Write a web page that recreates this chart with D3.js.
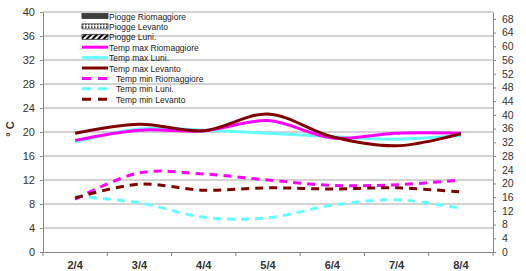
<!DOCTYPE html>
<html>
<head>
<meta charset="utf-8" />
<script src="https://d3js.org/d3.v7.min.js"></script>
<style>
body { margin: 0; background: #fff; }
svg { font-family: "Liberation Sans", Arial, sans-serif; }
.axis text { fill: #333; font-size: 11px; }
.axis path, .axis line { stroke: #888; }
</style>
</head>
<body>
<script>
var days = ["2/4", "3/4", "4/4", "5/4", "6/4", "7/4", "8/4"];

var maxRiomaggiore = [18.6, 20.3, 20.2, 21.9, 19.0, 19.8, 19.8];
var maxLuni        = [18.3, 20.5, 20.3, 19.8, 19.2, 18.8, 19.4];
var maxLevanto     = [19.8, 21.3, 20.2, 23.0, 19.2, 17.7, 19.7];
var minRiomaggiore = [8.8, 13.2, 13.0, 12.0, 11.1, 11.2, 12.0];
var minLuni        = [9.3, 8.2, 5.8, 5.7, 7.8, 8.7, 7.3];
var minLevanto     = [9.0, 11.3, 10.3, 10.7, 10.5, 10.7, 10.0];

var rainRiomaggiore = [0, 0, 0, 0, 0, 0, 0];
var rainLevanto     = [0, 0, 0, 0, 0, 0, 0];
var rainLuni        = [0, 0, 0, 0, 0, 0, 0];

var leftTicks = [0, 4, 8, 12, 16, 20, 24, 28, 32, 36, 40];
var rightTicks = [0, 4, 8, 12, 16, 20, 24, 28, 32, 36, 40, 44, 48, 52, 56, 60, 64, 68];

var margin = {top: 12, right: 33, bottom: 19, left: 43},
    width = 526 - margin.left - margin.right,
    height = 271 - margin.top - margin.bottom;

var svg = d3.select("body").append("svg")
    .attr("width", 526)
    .attr("height", 271);

var g = svg.append("g")
    .attr("transform", "translate(" + margin.left + "," + margin.top + ")");

var x = d3.scaleBand().domain(days).range([0, width]);
var y = d3.scaleLinear().domain([0, 40]).range([height, 0]);
var y2 = d3.scaleLinear().domain([0, 70]).range([height, 0]);

// gridlines
g.selectAll(".grid")
    .data(leftTicks.slice(1))
    .enter().append("line")
    .attr("x1", 0).attr("x2", width)
    .attr("y1", function(d) { return y(d); })
    .attr("y2", function(d) { return y(d); })
    .style("stroke", "#c4c4c4")
    .style("stroke-width", 1.5);

// axes
var xAxis = d3.axisBottom(x).tickSize(0).tickPadding(9);
var gx = g.append("g")
    .attr("class", "x axis")
    .attr("transform", "translate(0," + height + ")")
    .call(xAxis);
gx.selectAll("text").style("font-weight", "bold").style("font-size", "11px");
gx.selectAll(".xtick")
    .data(d3.range(days.length + 1))
    .enter().append("line")
    .attr("class", "xtick")
    .attr("x1", function(d) { return d * x.step(); })
    .attr("x2", function(d) { return d * x.step(); })
    .attr("y1", 0).attr("y2", 4)
    .style("stroke", "#888");

g.append("g")
    .attr("class", "y axis")
    .call(d3.axisLeft(y).tickValues(leftTicks).tickSize(3).tickSizeOuter(0).tickPadding(5));

g.append("g")
    .attr("class", "y2 axis")
    .attr("transform", "translate(" + width + ",0)")
    .call(d3.axisRight(y2).tickValues(rightTicks).tickSize(3).tickSizeOuter(0).tickPadding(6));

g.selectAll(".y2 text").style("font-size", "10.5px");

svg.append("text")
    .attr("transform", "translate(14," + (margin.top + y(20.5)) + ") rotate(-90)")
    .attr("text-anchor", "middle")
    .style("font-weight", "bold")
    .style("font-size", "11px")
    .style("fill", "#333")
    .text("° C");

// rain bars (all zero in this period)
var rainSeries = [rainRiomaggiore, rainLevanto, rainLuni];
var rainFill = ["#404040", "#ffffff", "#ffffff"];
rainSeries.forEach(function(s, k) {
    g.selectAll(".rain" + k)
        .data(s)
        .enter().append("rect")
        .attr("x", function(d, i) { return x(days[i]) + x.bandwidth() * (0.2 + 0.2 * k); })
        .attr("width", x.bandwidth() * 0.2)
        .attr("y", function(d) { return y2(d); })
        .attr("height", function(d) { return height - y2(d); })
        .style("fill", rainFill[k])
        .style("stroke", "#000");
});

var series = [
    {name: "Temp max Riomaggiore", values: maxRiomaggiore, color: "#ff00ff", dash: null},
    {name: "Temp max Luni.", values: maxLuni, color: "#66ffff", dash: null},
    {name: "Temp max Levanto", values: maxLevanto, color: "#800000", dash: null},
    {name: "Temp min Riomaggiore", values: minRiomaggiore, color: "#ff00ff", dash: "8,6"},
    {name: "Temp min Luni.", values: minLuni, color: "#66ffff", dash: "8,6"},
    {name: "Temp min Levanto", values: minLevanto, color: "#800000", dash: "8,6"}
];

var line = d3.line()
    .x(function(d, i) { return x(days[i]) + x.bandwidth() / 2; })
    .y(function(d) { return y(d); })
    .curve(d3.curveCatmullRom.alpha(0.5));

// draw order: cyan, magenta, brown on top
[1, 0, 2, 4, 3, 5].forEach(function(k) {
    var s = series[k];
    g.append("path")
        .datum(s.values)
        .attr("d", line)
        .style("fill", "none")
        .style("stroke", s.color)
        .style("stroke-width", 3)
        .style("stroke-dasharray", s.dash);
});

// legend
var legend = svg.append("g").attr("transform", "translate(82,16)");
var rowH = 10.4;
var legendNames = ["Piogge Riomaggiore", "Piogge Levanto", "Piogge Luni."].concat(series.map(function(s) { return s.name; }));

var defs = svg.append("defs");
var hatch = defs.append("pattern").attr("id", "hatch")
    .attr("width", 4).attr("height", 4)
    .attr("patternUnits", "userSpaceOnUse")
    .attr("patternTransform", "rotate(45)");
hatch.append("rect").attr("width", 2).attr("height", 4).style("fill", "#000");
var dots = defs.append("pattern").attr("id", "dots")
    .attr("width", 3).attr("height", 3)
    .attr("patternUnits", "userSpaceOnUse");
dots.append("rect").attr("width", 3).attr("height", 3).style("fill", "#fff");
dots.append("rect").attr("width", 1.5).attr("height", 1.5).style("fill", "#000");

var rainSw = ["#404040", "url(#dots)", "url(#hatch)"];
legendNames.forEach(function(name, i) {
    var row = legend.append("g").attr("transform", "translate(0," + (i * rowH) + ")");
    if (i < 3) {
        row.append("rect")
            .attr("x", 0).attr("y", -2.5).attr("width", 26).attr("height", 5)
            .style("fill", rainSw[i])
            .style("stroke", "#333")
            .style("stroke-width", 0.8);
        row.append("text").attr("x", 27).attr("y", 3.5)
            .style("font-size", "8.5px").style("fill", "#222").text(name);
    } else {
        var s = series[i - 3];
        row.append("line")
            .attr("x1", 0).attr("x2", 26).attr("y1", 0).attr("y2", 0)
            .style("stroke", s.color)
            .style("stroke-width", 3)
            .style("stroke-dasharray", s.dash ? "9,7" : null);
        row.append("text").attr("x", s.dash ? 34 : 27).attr("y", 3.5)
            .style("font-size", "8.5px").style("fill", "#222").text(s.name);
    }
});
</script>
</body>
</html>
